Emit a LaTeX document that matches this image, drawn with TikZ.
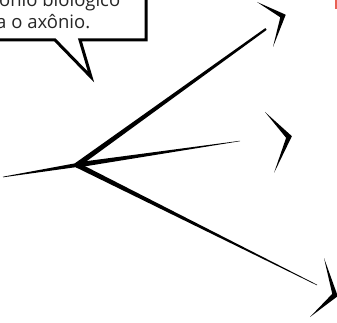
\documentclass[tikz,border=0pt]{standalone}
\usepackage{fontspec}
\setmainfont{Open Sans}
\usetikzlibrary{calc}
\definecolor{edgered}{RGB}{232,96,84}
\tikzstyle{none}=[inner sep=0mm]
\tikzstyle{ink}=[fill=black]
\tikzstyle{speech}=[draw=black,fill=white,line width=3pt,line join=miter]
\tikzstyle{speech text}=[none,anchor=base west,text=black!85,font=\fontsize{18.5}{22}\selectfont]
% tapered stroke: from #1 (half width #3) to #2 (half width #4)
\newcommand{\taper}[4]{\fill[ink] ($(#1)!#3!90:(#2)$) -- ($(#2)!#4!-90:(#1)$) -- ($(#2)!#4!90:(#1)$) -- ($(#1)!#3!-90:(#2)$) -- cycle;}
% chevron with sharp ends, thick at the vertex #2
\newcommand{\chevron}[4]{\fill[ink] (#1) -- ($(#2)!-#4!($(#1)!0.5!(#3)$)$) -- (#3) -- ($(#2)!#4!($(#1)!0.5!(#3)$)$) -- cycle;}

\begin{document}
\begin{tikzpicture}[x=1pt,y=-1pt]
	\useasboundingbox (0,0) rectangle (337,323);
	\clip (0,0) rectangle (337,323);
	% speech bubble
	\draw [style=speech] (-10,-10) -- (146,-10) -- (146,40) -- (80,40) -- (91,77) -- (55,40) -- (-10,40);
	\node [style=speech text] (line1) at (-1,7) {ônio biológico};
	\node [style=speech text] (line2) at (-4,29) {a o axônio.};
	% neuron
	\coordinate (soma) at (77,165);
	\coordinate (tail) at (3,177);
	\coordinate (upEnd) at (266,29);
	\coordinate (midEnd) at (240,141);
	\coordinate (lowEnd) at (317,285);
	\taper{soma}{tail}{2pt}{0.3pt}
	\taper{soma}{upEnd}{2.6pt}{1.1pt}
	\taper{soma}{midEnd}{2.6pt}{0.2pt}
	\taper{soma}{lowEnd}{2.6pt}{0.3pt}
	\fill [ink] (soma) circle (2.6pt);
	% chevrons
	\coordinate (c1a) at (257,2);
	\coordinate (c1b) at (283,16);
	\coordinate (c1c) at (273,47);
	\coordinate (c2a) at (265,112);
	\coordinate (c2b) at (289,137);
	\coordinate (c2c) at (274,173);
	\coordinate (c3a) at (324,258);
	\coordinate (c3b) at (335,295);
	\coordinate (c3c) at (310,317);
	\chevron{c1a}{c1b}{c1c}{3pt}
	\chevron{c2a}{c2b}{c2c}{3pt}
	\chevron{c3a}{c3b}{c3c}{3pt}
	% red edge
	\fill [edgered] (335,0) rectangle (337,9);
\end{tikzpicture}
\end{document}
